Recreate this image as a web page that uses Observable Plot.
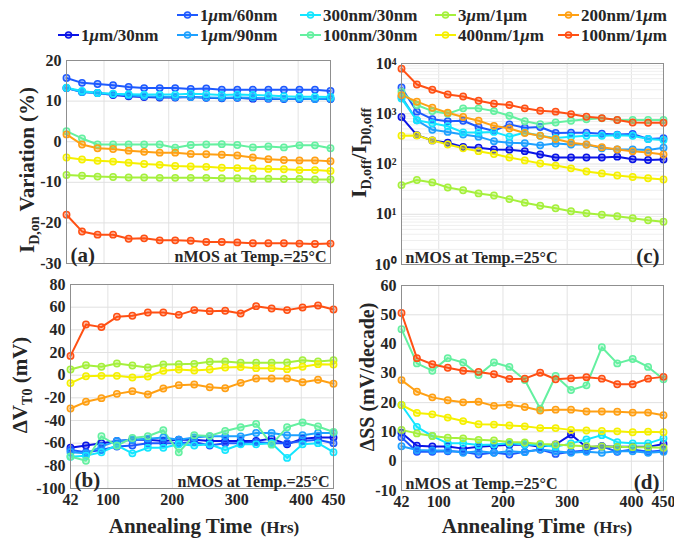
<!DOCTYPE html>
<html>
<head>
<meta charset="utf-8">
<script src="https://cdn.jsdelivr.net/npm/d3@7"></script>
<script src="https://cdn.jsdelivr.net/npm/@observablehq/plot@0.6"></script>
<style>
  body { margin: 0; background: #fff; }
  #wrap { position: relative; width: 674px; height: 538px; overflow: hidden; background: #fff; }
  #wrap > svg { position: absolute; }
</style>
</head>
<body>
<div id="wrap"></div>
<script>
// ---------- data ----------
const times = [42,66,90,114,138,162,186,210,234,258,282,306,330,354,378,402,426,450];
const series = ["1μm/30nm","1μm/60nm","1μm/90nm","300nm/30nm","100nm/30nm","3μm/1μm","400nm/1μm","200nm/1μm","100nm/1μm"];
const colors = ["#0a14e6","#1e5aff","#1ea0ff","#14e6ff","#64f0a0","#a5f03c","#f5f000","#ffa014","#ff5014"];
const xTicks = [42,100,200,300,400,450];

// (a) I_D,on variation (%)
const idonVar = [
  [13.2,12.3,12.0,11.5,11.2,11.0,10.9,10.9,11.0,10.8,10.7,10.8,10.6,10.6,10.5,10.5,10.5,10.5],
  [15.7,14.5,14.2,13.9,13.5,13.2,13.2,13.2,13.0,13.1,12.8,12.8,12.8,12.8,12.8,12.8,12.8,12.5],
  [13.2,12.2,12.0,11.7,11.4,11.2,11.1,11.0,11.0,10.9,10.8,10.9,10.8,10.7,10.6,10.6,10.5,10.6],
  [13.3,12.5,12.0,11.8,11.7,11.6,11.6,11.6,11.8,11.7,11.5,11.6,11.5,11.4,11.2,11.1,11.1,11.0],
  [2.6,0.8,-0.7,-0.7,-0.7,-0.7,-0.7,-1.5,-0.8,-0.7,-0.6,-0.8,-1.4,-1.2,-1.4,-0.9,-0.9,-1.6],
  [-8.2,-8.4,-8.6,-8.7,-8.8,-8.8,-8.9,-8.9,-8.9,-8.9,-9.0,-9.0,-9.1,-9.1,-9.2,-9.2,-9.3,-9.3],
  [-3.9,-4.4,-4.7,-4.9,-5.2,-5.5,-5.7,-6.0,-6.1,-6.2,-6.4,-6.5,-6.6,-6.7,-6.8,-7.0,-7.0,-7.2],
  [1.8,-0.7,-1.6,-1.8,-2.2,-2.5,-2.7,-2.7,-3.0,-3.1,-3.2,-3.4,-3.9,-4.3,-4.5,-4.6,-4.6,-4.8],
  [-18.0,-22.1,-22.9,-22.9,-23.9,-23.8,-24.3,-24.3,-24.4,-24.7,-24.7,-24.8,-25.0,-25.0,-25.0,-25.1,-25.2,-25.1]
];
const yTicksA = [-30,-20,-10,0,10,20];

// (b) delta V_T0 (mV)
const dvt0 = [
  [-64,-62,-60,-58,-57,-57,-58,-57,-57,-58,-58,-58,-58,-56,-61,-56,-55,-55],
  [-66,-68,-66,-63,-62,-60,-60,-60,-59,-62,-60,-60,-59,-60,-60,-58,-57,-60],
  [-68,-69,-63,-58,-57,-56,-55,-57,-55,-54,-54,-54,-51,-51,-53,-53,-51,-51],
  [-72,-71,-68,-62,-69,-64,-64,-61,-62,-61,-66,-61,-61,-60,-73,-61,-60,-68],
  [-71.7,-75.5,-53.9,-62.2,-55.4,-53.9,-48.6,-68.1,-53,-53.6,-49.2,-45.9,-43,-61.3,-45.9,-41.8,-45.3,-50.1],
  [5,8.8,7.4,10.3,8.5,6.8,9.4,9.7,10,11.8,12.1,10.9,10.9,10.9,11.2,13.2,12.1,13.2],
  [-7,-0.9,-0.6,-0.6,-2,-1.2,3.8,5,4.1,5,6.8,7.1,6.2,6.2,5.3,7.4,9.7,9.4],
  [-29.4,-23.5,-20.3,-16.5,-14.1,-17.1,-11.8,-8.8,-8.2,-10.6,-11.5,-6.8,-2.9,-2.9,-2.9,-6.2,-4.1,-7.6],
  [17,44.7,42.4,51.5,52.4,55.3,55.3,53.2,57.4,56.5,56.8,54.4,60.9,58.8,57.4,59.7,61.5,57.9]
];
const yTicksB = [-100,-80,-60,-40,-20,0,20,40,60,80];

// (c) I_D,off / I_D0,off
const ioffRatio = [
  [860,375,295,265,218,210,195,192,180,155,135,135,135,135,140,124,120,123],
  [3330,1100,780,710,725,545,455,615,525,545,415,420,420,400,385,395,315,325],
  [2180,740,480,435,385,350,285,265,260,235,255,245,245,205,195,195,190,210],
  [2000,740,645,565,425,425,435,350,425,365,330,350,365,365,375,365,315,300],
  [2750,1490,1130,1000,1280,1280,1130,910,710,620,670,725,775,810,750,750,750,750],
  [38,48,43,34,30,26,23.6,20,17,14.8,13.2,11.5,10.5,9.8,9.1,8.3,7.6,7.1],
  [365,370,295,245,205,180,158,135,118,102,93,82,71,65,59,55,52,49],
  [2350,1740,1320,1050,860,725,575,510,415,365,315,265,245,215,195,180,170,155],
  [7900,3830,3000,2420,2200,1810,1580,1490,1280,1150,1100,985,870,820,750,670,660,660]
];
const yTicksC = [1,10,100,1000,10000];

// (d) delta SS (mV/decade)
const dss = [
  [9.7,5.3,5.0,5.0,4.3,4.9,5.3,5.6,5.7,4.9,5.7,9.1,4.8,5.1,4.9,4.9,4.9,5.9],
  [8.2,3.2,3.2,3.4,3.2,2.3,3.0,2.3,3.2,4.0,2.5,3.2,3.7,5.1,3.2,4.0,3.2,3.7],
  [5.1,3.8,3.7,3.7,2.9,3.4,2.9,3.4,3.1,4.0,3.4,2.9,3.2,2.9,3.4,3.4,2.9,3.2],
  [19.2,11.7,8.6,6.1,6.1,5.5,5.7,6.1,5.7,5.5,4.9,6.1,7.4,8.9,6.5,6.1,6.1,7.8],
  [45.1,33.4,30.9,35.2,33.7,29.4,33.7,32.2,27.7,17.9,29.1,24.3,25.9,38.9,33.4,34.9,32.2,28.0],
  [10.7,9.5,8.6,8.0,7.8,7.3,7.1,6.6,6.4,5.9,5.7,5.4,5.1,5.0,4.9,4.8,4.8,4.6],
  [19.2,16.5,16.0,14.9,13.7,12.6,12.5,12.2,11.9,11.3,11.3,10.7,10.5,10.3,10.2,9.9,10.1,9.9],
  [27.7,23.7,21.8,20.8,20.1,20.3,18.9,19.3,18.5,17.3,17.6,17.6,17.0,17.0,16.9,16.6,16.6,15.7],
  [50.6,35.2,33.1,31.9,30.9,30.5,29.7,28.1,28.2,30.2,28.0,28.3,28.7,28.2,26.3,26.3,28.2,28.8]
];
const yTicksD = [-10,0,10,20,30,40,50,60];

// ---------- drawing ----------
const FONT = "'Liberation Serif','Times New Roman',serif";
const wrap = document.getElementById("wrap");

function rows(vals) {
  const out = [];
  vals.forEach((arr, si) => arr.forEach((v, ti) => out.push({t: times[ti], v, s: series[si]})));
  return out;
}
const sup = {"0":"⁰","1":"¹","2":"²","3":"³","4":"⁴"};

function panel(o) {
  const data = rows(o.vals);
  const isLog = o.type === "log";
  const minor = [];
  if (isLog) for (let e = 0; e < 4; e++) for (let k = 2; k <= 9; k++) minor.push(k * 10 ** e);
  const textLeft = o.leftText, textRight = o.rightText;
  const svg = Plot.plot({
    width: o.width, height: o.height,
    marginLeft: o.mL, marginRight: o.mR, marginTop: o.mT, marginBottom: o.mB,
    style: {fontFamily: FONT, fontSize: "16px", fontWeight: "bold", background: "transparent", overflow: "visible", color: "#262626"},
    x: {domain: [42, 450], axis: o.showX ? undefined : null},
    y: {type: isLog ? "log" : "linear", domain: o.domain},
    color: {domain: series, range: colors},
    marks: [
      Plot.gridX([100, 200, 300, 400], {stroke: "#e3e3e3", strokeOpacity: 1}),
      isLog ? Plot.gridY(minor, {stroke: "#efefef", strokeOpacity: 1}) : null,
      Plot.gridY(o.ticks, {stroke: "#e0e0e0", strokeOpacity: 1}),
      Plot.line(data, {x: "t", y: "v", z: "s", stroke: "s", strokeWidth: 2}),
      Plot.dot(data, {x: "t", y: "v", stroke: "s", fill: "s", fillOpacity: 0.35, r: 3.2, strokeWidth: 1.5}),
      Plot.axisY(o.ticks, {tickSize: 0, tickPadding: 5, label: null,
        tickFormat: isLog ? (d => "10" + sup[String(Math.round(Math.log10(d)))]) : (d => String(d))}),
      o.showX ? Plot.axisX(xTicks, {tickSize: 0, tickPadding: 5, label: null, tickFormat: d => String(d)}) : null,
      Plot.frame({stroke: "#8f8f8f"}),
      Plot.text([textLeft.t], {frameAnchor: "bottom-left", textAnchor: "start", lineAnchor: "bottom", dx: 4, dy: -2, fontSize: textLeft.size}),
      Plot.text([textRight.t], {frameAnchor: "bottom-right", textAnchor: "end", lineAnchor: "bottom", dx: -4, dy: -2, fontSize: textRight.size})
    ]
  });
  svg.style.left = o.left + "px";
  svg.style.top = o.top + "px";
  wrap.appendChild(svg);
}

const note = "nMOS at Temp.=25°C";
panel({vals: idonVar, domain: [-30, 20], ticks: yTicksA, left: 0, top: 50, width: 337, height: 230,
  mL: 66, mR: 7, mT: 10, mB: 17, showX: false,
  leftText: {t: "(a)", size: 21}, rightText: {t: note, size: 16}});
panel({vals: dvt0, domain: [-100, 80], ticks: yTicksB, left: 0, top: 270, width: 337, height: 268,
  mL: 70, mR: 4, mT: 14, mB: 50, showX: true,
  leftText: {t: "(b)", size: 21}, rightText: {t: note, size: 16}});
panel({vals: ioffRatio, type: "log", domain: [1, 10000], ticks: yTicksC, left: 337, top: 50, width: 337, height: 230,
  mL: 64, mR: 11, mT: 13, mB: 16, showX: false,
  leftText: {t: note, size: 16}, rightText: {t: "(c)", size: 21}});
panel({vals: dss, domain: [-10, 60], ticks: yTicksD, left: 337, top: 270, width: 337, height: 268,
  mL: 64, mR: 11, mT: 15, mB: 48, showX: true,
  leftText: {t: note, size: 16}, rightText: {t: "(d)", size: 21}});

// ---------- overlay: axis titles and legend ----------
const ov = d3.select(wrap).append("svg")
  .attr("width", 674).attr("height", 538)
  .style("left", "0px").style("top", "0px")
  .style("font-family", FONT).style("font-weight", "bold").style("fill", "#262626");

function ylabel(x, y, parts) {
  const t = ov.append("text").attr("transform", `translate(${x},${y}) rotate(-90)`)
    .attr("text-anchor", "middle");
  parts.forEach(p => {
    const s = t.append("tspan").text(p.t).attr("font-size", p.size);
    if (p.dy) s.attr("dy", p.dy);
  });
}
ylabel(34, 170, [{t: "I", size: 21}, {t: "D,on", size: 14, dy: 5}, {t: " Variation (%)", size: 21, dy: -5}]);
ylabel(27, 385, [{t: "ΔV", size: 21}, {t: "T0", size: 14, dy: 5}, {t: " (mV)", size: 21, dy: -5}]);
ylabel(366, 153, [{t: "I", size: 22}, {t: "D,off", size: 14, dy: 5}, {t: "/I", size: 22, dy: -5}, {t: "D0,off", size: 14, dy: 5}]);
ylabel(374, 377, [{t: "ΔSS (mV/decade)", size: 20}]);

function xlabel(cx) {
  const t = ov.append("text").attr("x", cx).attr("y", 533).attr("text-anchor", "middle");
  t.append("tspan").text("Annealing Time").attr("font-size", 21);
  t.append("tspan").text("  (Hrs)").attr("font-size", 17).attr("xml:space", "preserve");
}
xlabel(204);
xlabel(537);

// legend
const colX = [58, 177, 300, 435, 558];
series.forEach((name, i) => {
  const col = Math.floor((i + 1) / 2);
  const rowY = (i + 1) % 2 === 0 ? 15 : 35;
  const x0 = colX[col];
  const g = ov.append("g");
  g.append("line").attr("x1", x0).attr("x2", x0 + 21).attr("y1", rowY).attr("y2", rowY)
    .attr("stroke", colors[i]).attr("stroke-width", 2);
  g.append("circle").attr("cx", x0 + 10.5).attr("cy", rowY).attr("r", 3)
    .attr("stroke", colors[i]).attr("stroke-width", 1.5).attr("fill", colors[i]).attr("fill-opacity", 0.35);
  const t = g.append("text").attr("x", x0 + 23).attr("y", rowY + 6).attr("font-size", 17);
  const m = name.indexOf("μ");
  if (m >= 0) {
    t.append("tspan").text(name.slice(0, m));
    t.append("tspan").text("μ").attr("font-style", "italic");
    t.append("tspan").text(name.slice(m + 1));
  } else {
    t.text(name);
  }
});
</script>
</body>
</html>
